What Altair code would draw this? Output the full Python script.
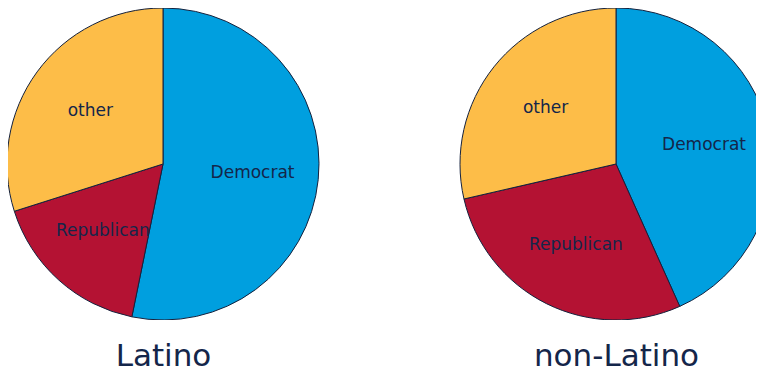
import altair as alt
import pandas as pd

groups = ["Latino", "non-Latino"]
parties = ["Democrat", "Republican", "other"]
latino_share = [53.2, 16.9, 29.9]
nonlatino_share = [43.3, 28.1, 28.6]
party_colors = ["#009FDF", "#B41233", "#FDBD48"]

rows = []
for g, vals in zip(groups, [latino_share, nonlatino_share]):
    for i, (p, v) in enumerate(zip(parties, vals)):
        rows.append({"group": g, "party": p, "share": v, "rank": i})
df = pd.DataFrame(rows)

base = (
    alt.Chart(df)
    .transform_stack(stack="share", as_=["s0", "s1"], groupby=["group"], sort=[alt.SortField("rank")])
    .transform_calculate(mid="(datum.s0 + datum.s1) / 2")
    .encode(
        x=alt.X(
            "group:N",
            sort=groups,
            scale=alt.Scale(type="point", domain=groups, range=[155, 608], padding=0),
            axis=alt.Axis(
                title=None, ticks=False, domain=False, grid=False, labelAngle=0,
                labelFontSize=31, labelFont="DejaVu Sans", labelColor="#14264a",
                labelPadding=21,
            ),
        )
    )
)

theta_scale = alt.Scale(domain=[0, 100])

arcs = base.mark_arc(outerRadius=156, stroke="#14213d", strokeWidth=1, clip=True).encode(
    theta=alt.Theta("s0:Q", scale=theta_scale),
    theta2="s1:Q",
    color=alt.Color("party:N", scale=alt.Scale(domain=parties, range=party_colors), legend=None),
)

labels = base.mark_text(radius=90, font="DejaVu Sans", fontSize=17, color="#14264a").encode(
    theta=alt.Theta("mid:Q", scale=theta_scale),
    text="party:N",
)

chart = (
    alt.layer(arcs, labels)
    .properties(width=748, height=312, padding=0)
    .configure_view(stroke=None)
)

chart.save("out.html", embed_options={"renderer": "svg", "actions": False})
